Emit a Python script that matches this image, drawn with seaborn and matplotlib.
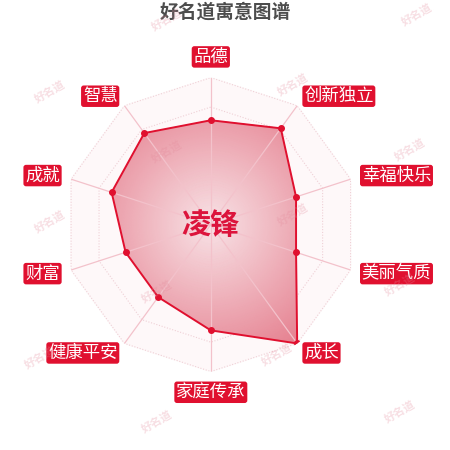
import numpy as np
import pandas as pd
import matplotlib
matplotlib.use('Agg')
import matplotlib.pyplot as plt
import seaborn as sns

sns.set_theme(style='white')
plt.rcParams['font.family'] = ['Noto Sans CJK SC', 'DejaVu Sans']

# dimensions, clockwise from the top
categories = ['品德', '创新独立', '幸福快乐', '美丽气质', '成长',
              '家庭传承', '健康平安', '财富', '成就', '智慧']
scores = [71, 81, 61, 61, 100, 72, 61, 61, 71, 77]
max_score = 100
levels = [20, 40, 60, 80, 100]
name = '凌锋'
title = '好名道寓意图谱'
watermark = '好名道'

red = '#e0102f'

df = pd.DataFrame({'category': categories, 'score': scores})
df['angle'] = np.linspace(0, 2 * np.pi, len(df), endpoint=False)

fig = plt.figure(figsize=(4.5, 4.5), dpi=100)
fig.patch.set_facecolor('white')
ax = fig.add_axes([0.142, 0.1744, 0.653, 0.653], projection='polar')
ax.set_theta_zero_location('N')
ax.set_theta_direction(-1)
ax.set_ylim(0, max_score)
ax.grid(False)
ax.spines['polar'].set_visible(False)
ax.set_xticks([])
ax.set_yticks([])
ax.patch.set_alpha(0)

closed_angle = np.append(df['angle'].values, df['angle'].values[0])
closed_scores = np.append(df['score'].values, df['score'].values[0])

# very faint backdrop inside the outer ring
ax.fill(closed_angle, [max_score] * len(closed_angle), color='#fef8f9', zorder=0)

# dotted rings
for lv in levels:
    ax.plot(closed_angle, [lv] * len(closed_angle), color='#efd0d6', lw=0.8,
            ls=(0, (1, 1.5)), zorder=1)

# gradient fill clipped to the score polygon
poly = ax.fill(closed_angle, closed_scores, facecolor='none', edgecolor='none', zorder=2)[0]
tt, rr = np.meshgrid(np.linspace(0, 2 * np.pi, 181), np.linspace(0, max_score, 60))
cmap = sns.blend_palette(['#f8e3e7', '#e5808f'], as_cmap=True)
mesh = ax.pcolormesh(tt, rr, rr, cmap=cmap, shading='gouraud', zorder=2)
mesh.set_clip_path(poly)

# spokes
for a in df['angle']:
    ax.plot([a, a], [0, max_score], color='#f3c2cb', lw=0.9, zorder=3)

# outline and points
ax.plot(closed_angle, closed_scores, color=red, lw=1.4, zorder=4)
ax.plot(df['angle'], df['score'], 'o', color=red, ms=4, zorder=5)

# category labels
for a, c in zip(df['angle'], df['category']):
    s, co = np.sin(a), np.cos(a)
    if abs(s) < 0.01:
        ha, va = 'center', ('bottom' if co > 0 else 'top')
    else:
        ha, va = ('left' if s > 0 else 'right'), 'center'
    ax.text(a, max_score * 1.08, c, ha=ha, va=va, color='white', fontsize=12.5,
            bbox=dict(boxstyle='round,pad=0.1,rounding_size=0.15', fc=red, ec='none'),
            zorder=6)

ax.text(0, 0, name, ha='center', va='center', fontsize=21, fontweight='bold',
        color='#dc143c', zorder=6)

fig.text(0.5, 1 - 12 / 450, title, ha='center', va='center', fontsize=13.5,
         fontweight='bold', color='#4d4d4d')

# watermarks
wm_xy = [(167, 20), (417, 15), (50, 92), (293, 85), (167, 152), (410, 150),
         (50, 222), (293, 215), (157, 292), (400, 285), (40, 358), (277, 355),
         (157, 422), (400, 412)]
for x, y in wm_xy:
    fig.text(x / 450, 1 - y / 450, watermark, ha='center', va='center', fontsize=8,
             rotation=30, color='#e48a9b', alpha=0.28, fontweight='bold', zorder=10)

fig.savefig('out.png', dpi=100)
